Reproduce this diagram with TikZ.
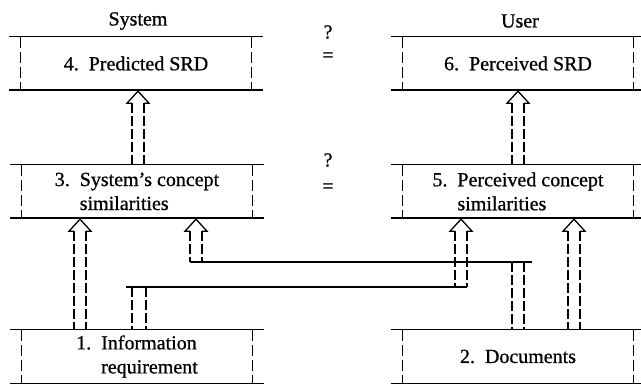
\documentclass[tikz,border=0pt]{standalone}
\usepackage{fontspec}
\setmainfont{Liberation Serif}[FakeBold=0.8]
\usetikzlibrary{positioning}

\begin{document}
\begin{tikzpicture}[
    x=1pt, y=-1pt,
    stage/.style={minimum width=230pt, minimum height=53pt, inner sep=0pt, align=left},
    rim/.style={line width=1.4pt},
    side/.style={line width=1.1pt, dash pattern=on 11pt off 4pt},
    shaft/.style={line width=1.3pt, dash pattern=on 10pt off 3pt},
    duct/.style={line width=1.3pt},
    head/.style={line width=1.3pt, line join=miter},
    font=\fontsize{20}{24}\selectfont
]

\fill[white] (0,0) rectangle (641,385);
\useasboundingbox (0,0) rectangle (641,385);

%-------------------------------------------------
% Headings
%-------------------------------------------------
\node (sys) at (138,21) {System};
\node (usr) at (520,21) {User};
\node (q1)  at (328,32)  {?};
\node (eq1) at (328,57)  {=};
\node (q2)  at (328,160) {?};
\node (eq2) at (328,188) {=};

%-------------------------------------------------
% Stages
%-------------------------------------------------
\node[stage] (b4) at (136,63.5)  {4.\enspace Predicted SRD};
\node[stage] (b3) at (137,191.5) {3.\enspace System's concept\\\phantom{3.\enspace}similarities};
\node[stage] (b1) at (137,356.5) {1.\enspace Information\\\phantom{1.\enspace}requirement};
\node[stage] (b6) at (518,63.5)  {6.\enspace Perceived SRD};
\node[stage] (b5) at (518,191.5) {5.\enspace Perceived concept\\\phantom{5.\enspace}similarities};
\node[stage] (b2) at (518,356.5) {2.\enspace Documents};

\foreach \b in {b1,b2,b3,b4,b5,b6}{
    \draw[rim] ([xshift=-12pt]\b.north west) -- ([xshift=12pt]\b.north east);
    \draw[rim] ([xshift=-12pt]\b.south west) -- ([xshift=12pt]\b.south east);
    \draw[side] (\b.north west) -- (\b.south west);
    \draw[side] (\b.north east) -- (\b.south east);
}

%-------------------------------------------------
% Straight ducts
%-------------------------------------------------
\foreach \xc/\boxlo/\boxhi in {138/b3/b4, 518/b5/b6, 80/b1/b3, 574/b2/b5}{
    \draw[shaft] (\xc-6,0 |- \boxhi.south) ++(0,13) -- (\xc-6,0 |- \boxlo.north);
    \draw[shaft] (\xc+6,0 |- \boxhi.south) ++(0,13) -- (\xc+6,0 |- \boxlo.north);
}

%-------------------------------------------------
% Information requirement -> perceived similarities
%-------------------------------------------------
\coordinate (dl) at (126,287);
\coordinate (dr) at (467,287);
\draw[shaft] (132,0 |- dl) -- (132,0 |- b1.north);
\draw[shaft] (146,0 |- dl) -- (146,0 |- b1.north);
\draw[duct] (dl) -- (dr);
\draw[shaft] (455,0 |- b5.south) ++(0,13) -- (455,0 |- dl);
\draw[shaft] (467,0 |- b5.south) ++(0,13) -- (dr);

%-------------------------------------------------
% Documents -> system's similarities
%-------------------------------------------------
\coordinate (el) at (190,262);
\coordinate (er) at (532,262);
\draw[shaft] (512,0 |- el) -- (512,0 |- b2.north);
\draw[shaft] (524,0 |- el) -- (524,0 |- b2.north);
\draw[duct] (el) -- (er);
\draw[shaft] (190,0 |- b3.south) ++(0,13) -- (el);
\draw[shaft] (202,0 |- b3.south) ++(0,13) -- (202,0 |- el);

%-------------------------------------------------
% Arrow heads
%-------------------------------------------------
\foreach \xc/\boxhi in {138/b4, 518/b6, 80/b3, 574/b5, 461/b5, 196/b3}
    \draw[head] (\xc-6,0 |- \boxhi.south) ++(0,13) -- ++(-5,0) -- ++(11,-12) -- ++(11,12) -- ++(-5,0);

\end{tikzpicture}
\end{document}
